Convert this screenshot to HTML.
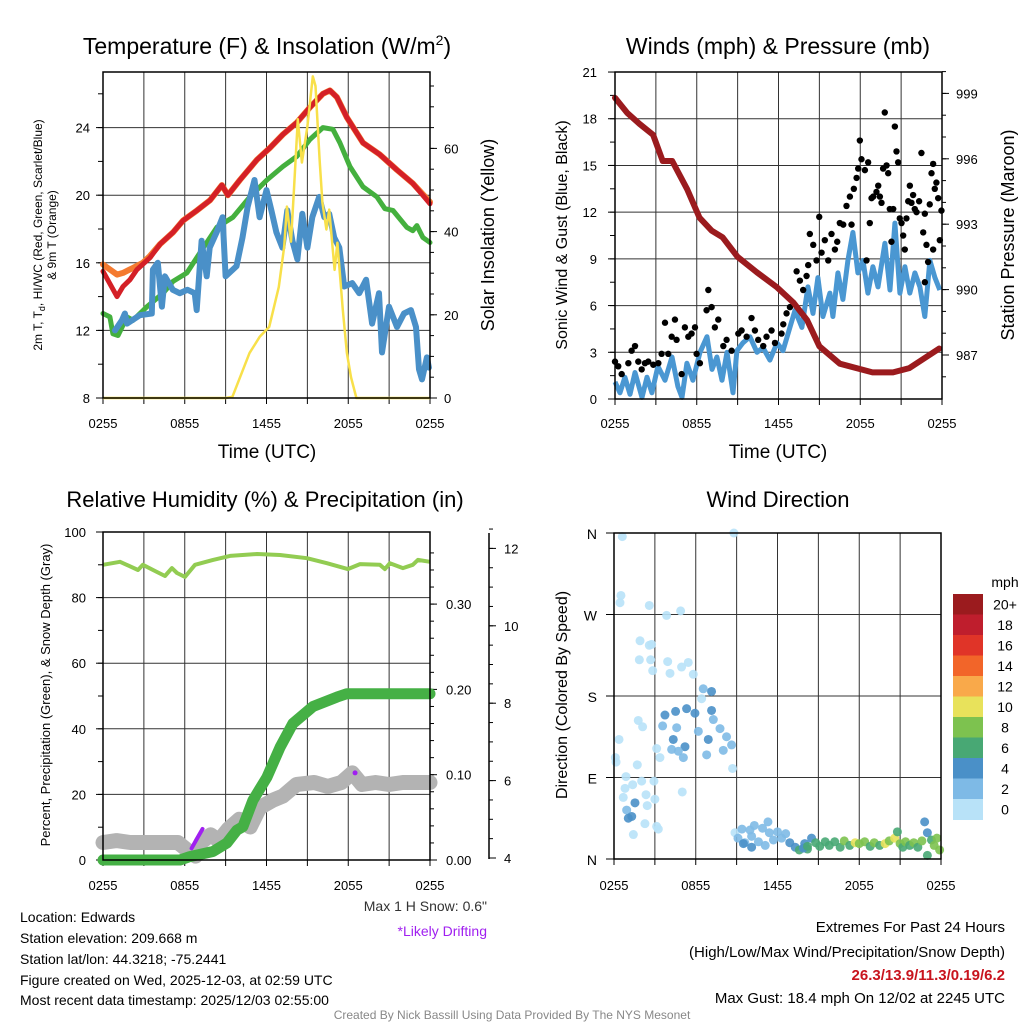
<!DOCTYPE html>
<html><head><meta charset="utf-8"><style>
html,body{margin:0;padding:0;background:#fff}
svg{display:block;font-family:"Liberation Sans",Arial,sans-serif}
</style></head><body>
<svg id="svg" width="1024" height="1024" viewBox="0 0 1024 1024" xmlns="http://www.w3.org/2000/svg">
<rect width="1024" height="1024" fill="#fff"/>
<g id="g1"></g>
<g id="g2"></g>
<g id="g3"></g>
<g id="g4"></g>

<text x="267" y="54" font-size="23" text-anchor="middle">Temperature (F) &amp; Insolation (W/m<tspan font-size="14" dy="-9">2</tspan><tspan dy="9">)</tspan></text>
<text x="778" y="54" font-size="23" text-anchor="middle">Winds (mph) &amp; Pressure (mb)</text>
<text x="265" y="507" font-size="22" text-anchor="middle">Relative Humidity (%) &amp; Precipitation (in)</text>
<text x="778" y="507" font-size="22" text-anchor="middle">Wind Direction</text>

<text x="267" y="458" font-size="19" text-anchor="middle">Time (UTC)</text>
<text x="778" y="458" font-size="19" text-anchor="middle">Time (UTC)</text>

<text transform="translate(42,235) rotate(-90)" font-size="12" text-anchor="middle">2m T, T<tspan font-size="9" dy="3">d</tspan><tspan dy="-3">, HI/WC (Red, Green, Scarlet/Blue)</tspan></text>
<text transform="translate(56,235) rotate(-90)" font-size="12" text-anchor="middle">&amp; 9m T (Orange)</text>
<text transform="translate(494,235) rotate(-90)" font-size="18" text-anchor="middle">Solar Insolation (Yellow)</text>
<text transform="translate(567,235) rotate(-90)" font-size="16" text-anchor="middle">Sonic Wind &amp; Gust (Blue, Black)</text>
<text transform="translate(1014,235) rotate(-90)" font-size="18" text-anchor="middle">Station Pressure (Maroon)</text>
<text transform="translate(50,695) rotate(-90)" font-size="13" text-anchor="middle">Percent, Precipitation (Green), &amp; Snow Depth (Gray)</text>
<text transform="translate(567,695) rotate(-90)" font-size="16" text-anchor="middle">Direction (Colored By Speed)</text>

<g font-size="14">
<text x="20" y="922">Location: Edwards</text>
<text x="20" y="943">Station elevation: 209.668 m</text>
<text x="20" y="964">Station lat/lon: 44.3218; -75.2441</text>
<text x="20" y="985">Figure created on Wed, 2025-12-03, at 02:59 UTC</text>
<text x="20" y="1005">Most recent data timestamp: 2025/12/03 02:55:00</text>
</g>
<text x="487" y="911" font-size="14" text-anchor="end" fill="#333">Max 1 H Snow: 0.6"</text>
<text x="487" y="936" font-size="14" text-anchor="end" fill="#a020f0">*Likely Drifting</text>
<g font-size="15" text-anchor="end">
<text x="1005" y="932">Extremes For Past 24 Hours</text>
<text x="1005" y="957">(High/Low/Max Wind/Precipitation/Snow Depth)</text>
<text x="1005" y="980" font-weight="bold" fill="#c8141e">26.3/13.9/11.3/0.19/6.2</text>
<text x="1005" y="1003">Max Gust: 18.4 mph On 12/02 at 2245 UTC</text>
</g>
<text x="512" y="1019" font-size="12" text-anchor="middle" fill="#888">Created By Nick Bassill Using Data Provided By The NYS Mesonet</text>
</svg>
<script>
// ---- Panel 1 data ----
const redT=[0,1.03,1.47,1.98,2.49,3.45,4.18,5.14,5.87,6.9,7.85,8.73,9.17,10.05,11.3,12.25,13.21,14.23,15.19,16.14,16.65,17.17,17.9,19.08,20.32,21.57,22.74,24];
const redV=[15.5,14.0,14.6,15.0,15.6,16.3,17.1,17.8,18.5,19.1,19.7,20.6,20.0,20.9,22.1,22.8,23.6,24.3,25.2,26.0,26.2,25.8,24.6,23.1,22.4,21.5,20.7,19.5];
const orangeT=[0,1.03,1.47,2.2,2.93,3.45,4.18,5.14,5.87,6.9,7.85,8.73,9.17,10.05,11.3,12.25,13.21,14.23,15.19,16.14,16.65,17.17,17.9,19.08,20.32,21.57,22.74,24];
const orangeV=[15.9,15.3,15.4,15.7,16.0,16.4,17.1,17.8,18.5,19.1,19.7,20.6,20.0,20.9,22.1,22.8,23.6,24.3,25.2,26.0,26.2,25.8,24.6,23.1,22.4,21.5,20.7,19.6];
const greenT=[0,0.51,0.73,1.1,1.76,2.2,3.23,4.4,5.14,6.16,7.12,8.36,9.54,10.78,12.03,13.2,14.23,15.19,16.14,16.87,17.39,18.12,19.08,20.1,20.69,21.28,22.3,22.74,23.04,23.48,24];
const greenV=[13.0,12.8,11.8,11.7,12.8,12.6,13.4,14.2,14.9,15.4,16.6,18.1,18.7,19.9,20.9,21.7,22.3,23.3,24.0,23.9,23.1,21.7,20.5,19.9,19.2,19.1,18.1,17.9,18.2,17.5,17.2];
const blueT=[0.88,1.39,1.61,1.76,2.7,3.58,3.66,4.02,4.32,4.54,5.12,5.63,6.2,6.73,6.88,7.24,7.61,7.83,8.34,8.78,9.0,9.8,10.24,10.61,11.12,11.49,12.0,12.36,12.73,13.17,13.53,13.9,14.27,14.63,15.0,15.36,15.87,16.24,16.6,16.97,17.34,17.7,18.29,18.8,19.31,19.75,20.26,20.48,20.99,21.58,22.09,22.6,22.97,23.19,23.41,23.77,23.92];
const blueV=[12.0,12.6,13.0,12.4,12.9,13.0,15.6,16.0,13.4,15.2,14.4,14.2,14.4,14.2,13.2,17.3,15.2,16.9,17.8,18.7,15.2,15.8,17.5,19.3,20.9,18.7,20.3,19.1,17.8,16.9,19.1,17.3,16.2,18.9,16.9,18.7,19.9,18.7,18.9,17.5,16.9,14.6,14.8,14.2,15.0,12.4,14.2,10.7,13.4,12.2,13.0,13.2,12.2,9.7,9.1,10.4,9.8];
const solarT=[0,9.0,9.5,10.75,11.5,12.2,12.9,13.3,13.5,13.8,14.0,14.3,14.6,15.0,15.4,15.6,15.9,16.1,16.4,16.6,17.0,17.2,17.6,17.9,18.2,18.6,24];
const solarV=[0,0,0.3,10.8,14.7,17.1,26.7,36.4,46,37.6,49.4,67,56.6,65.3,77.3,75,57.3,47,40.5,45.3,30.8,37.3,21.2,10.8,5,0,0];
const tempTicks=[8,12,16,20,24];
const solarTicks=[0,20,40,60];
const timeLabels=["0255","0855","1455","2055","0255"];
// ---- Panel 2 data ----
const presT=[0,0.9,1.8,2.8,3.5,4.2,5.3,6.2,7.1,7.9,9.0,10.4,11.9,13.1,14.1,15.0,16.5,18.9,20.4,21.6,23.8];
const presV=[998.8,998.1,997.6,997.1,995.9,995.9,994.6,993.3,992.7,992.4,991.5,990.8,990.1,989.4,988.6,987.4,986.6,986.2,986.2,986.4,987.3];
const windT=[0,.37,.73,1.1,1.47,1.98,2.35,2.71,3.15,3.67,4.18,4.62,4.92,5.28,5.72,6.24,6.75,7.12,7.48,7.85,8.22,8.66,8.95,9.39,9.9,10.42,10.86,11.37,11.89,12.33,12.84,13.21,13.72,14.16,14.53,14.89,15.26,15.77,15.99,16.36,16.73,17.09,17.46,17.83,18.2,18.56,18.93,19.3,19.81,20.18,20.54,20.91,21.28,21.64,22.01,22.38,22.74,23.11,23.48,23.84];
const windV=[1.1,.4,1.4,.3,1.7,.1,1.4,.4,2.1,1.2,2.7,.8,.1,2.3,1.2,3.0,4.0,1.9,2.7,1.2,3.0,.4,3.1,3.6,4.0,3.0,3.3,2.5,3.6,3.1,4.6,5.7,4.6,7.2,5.5,7.8,5.3,6.8,5.3,8.1,6.4,8.9,10.7,8.1,8.9,6.8,8.5,7.2,10.0,7.0,11.3,6.8,8.5,6.8,8.1,7.2,5.3,8.9,7.8,7.0];
const gustT=[0,.24,.49,.98,1.22,1.47,1.71,1.96,2.2,2.44,2.81,3.18,3.42,3.67,3.91,4.16,4.4,4.52,4.89,5.13,5.38,5.62,5.87,5.99,6.23,6.72,6.85,7.09,7.33,7.58,7.95,8.19,8.56,9.05,9.29,9.66,10.02,10.27,10.51,10.88,11.12,11.49,11.74,12.22,12.35,12.59,12.84,13.33,13.57,13.81,14.06,14.18,14.3,14.55,14.79,14.99,15.16,15.4,15.65,15.89,16.14,16.31,16.5,16.75,16.99,17.24,17.36,17.53,17.73,17.85,17.97,18.09,18.34,18.58,18.7,18.83,18.95,19.19,19.32,19.44,19.56,19.68,19.8,19.93,20.05,20.17,20.29,20.42,20.54,20.66,20.78,20.9,21.03,21.15,21.27,21.39,21.52,21.64,21.76,21.88,22.0,22.13,22.32,22.49,22.62,22.74,22.86,22.98,23.1,23.23,23.35,23.47,23.59,23.72,23.84,23.96,22.74,18.46,23.35];
const gustV=[2.4,2.1,1.6,2.3,3.1,3.4,2.4,1.9,2.3,2.4,2.2,2.3,2.9,4.9,2.9,4.0,5.1,3.8,1.6,4.6,4.0,4.2,4.6,2.9,2.3,5.7,7.0,5.9,4.6,5.1,3.4,3.8,3.1,4.2,4.4,4.0,5.2,4.4,3.8,3.4,4.0,4.4,3.6,4.2,4.8,5.5,5.9,8.2,7.6,7.0,7.9,8.6,10.6,9.9,8.9,11.7,9.4,10.2,8.9,10.6,9.6,10.1,11.3,11.2,12.4,13.0,11.2,13.5,14.2,14.8,16.6,15.4,14.7,15.2,11.3,12.9,13.0,13.3,13.7,13.0,12.6,14.8,18.4,15.0,14.5,12.2,10.1,12.2,17.5,15.9,15.2,11.6,11.3,10.5,9.6,11.6,12.7,13.7,12.6,13.1,12.2,12.0,12.7,15.8,10.7,11.9,9.9,8.8,12.5,14.5,15.1,13.5,13.9,12.9,10.2,12.1,7.5,8.9,9.6];
const windTicks=[0,3,6,9,12,15,18,21];
const presTicks=[987,990,993,996,999];
// ---- Panel 3 data ----
const rhT=[0,1.25,2.57,2.93,3.96,4.55,5.06,5.43,6.02,6.75,8.07,9.32,11.3,12.99,14.97,16.43,17.97,18.86,20.32,20.69,21.06,22.01,22.74,23.11,24];
const rhV=[90.0,90.9,88.4,90,87.8,86.6,89,87.5,86.3,90,91.5,92.7,93.3,93,92,90.5,88.7,90.2,90,88.7,90.5,89,90,91.5,90.9];
const precipT=[0,5.65,6.38,8.07,9.1,9.83,10.27,11.0,12.03,12.99,13.94,15.41,17.17,17.9,24];
const precipV=[0,0,0.004,0.01,0.02,0.035,0.039,0.07,0.097,0.132,0.16,0.18,0.191,0.195,0.195];
const snowT=[0,1,2,5.5,6.2,6.8,7.2,7.9,8.5,9.2,10.0,10.8,11.5,12.5,13.2,14.2,15.5,16.5,17.5,18.3,19,20,21,22,24];
const snowV=[4.4,4.45,4.4,4.4,4.2,4.05,4.4,4.6,4.45,4.75,5.0,4.8,5.3,5.5,5.6,5.9,5.95,5.85,5.95,6.2,5.9,5.95,5.9,5.95,5.95];
const driftT=[6.5,6.9,7.3];
const driftV=[4.25,4.5,4.75];
const driftDotT=[18.5];
const driftDotV=[6.2];
const rhTicks=[0,20,40,60,80,100];
const precipTicks=["0.00","0.10","0.20","0.30"];
const snowTicks=[4,6,8,10,12];
// ---- Panel 4 data ----
const dirT=[0.61,0.51,0.44,2.59,3.86,4.89,1.91,2.59,2.76,1.86,2.69,2.84,3.94,4.11,4.96,5.45,5.82,6.55,7.16,6.43,7.16,7.29,7.78,8.26,8.63,8.7,8.02,6.92,6.8,5.94,6.19,5.33,4.52,3.74,3.57,4.6,4.35,4.23,5.21,4.72,5.09,1.78,2.1,0.37,0.1,0.15,3.13,3.37,1.71,0.88,0.81,1.37,2.03,0.68,1.54,2.35,2.44,3.0,0.93,1.05,1.3,2.27,1.42,3.13,3.25,2.93,5.01,8.8,
8.88,9.1,9.39,9.6,9.98,10.1,10.3,10.6,10.9,11.1,11.3,11.4,11.7,12.0,12.3,12.6,12.9,13.3,13.6,14.0,14.2,14.5,14.8,15.1,15.5,15.8,16.2,16.6,16.9,17.3,17.7,18.0,18.4,18.8,19.1,19.5,19.9,20.2,20.6,20.8,21.0,21.2,21.4,21.7,22.0,22.3,22.6,22.8,23.0,23.0,23.3,23.5,23.7,23.9,9.5,10.1,13.9,14.2];
const dirDeg=[356,291,283,280,269,274,241,236,237,220,220,208,218,205,212,217,204,188,185,177,164,154,144,135,126,100,120,132,115,161,141,166,163,159,147,145,132,121,124,119,112,153,146,132,112,107,122,112,104,91,78,82,86,68,62,71,59,66,54,45,47,39,27,36,33,86,74,360,
29,23,33,18,32,25,37,19,34,15,41,29,21,30,23,28,18,13,10,17,11,23,18,14,19,15,19,13,20,15,18,17,19,14,18,15,17,20,23,30,17,13,19,15,18,13,20,41,29,4,21,15,23,10,17,13,12,14];
const dirSpd=[1,1,1,1,1,1,1,1,1,1,1,1,1,1,1,1,1,2.5,4.5,1,4.5,3,3,3,3,1,3,4.5,3,4.5,3,4.5,4.5,4.5,3,3,4.5,3,4.5,3,3,1,1,1,1,1,1,1,1,1,1,1,1,1,4.5,1,1,1,3,4.5,4.5,1,1,1,1,1,1,1,
1.5,2.5,2.5,2.5,2.5,3.5,2.5,3,2.5,3,2.5,2.5,3,2.5,3,2.5,4.5,4.5,6,4.5,6.5,5,6.5,6.5,7,6.5,7,6.5,8.5,6.5,10.5,8.5,8.5,7,8.5,7,10.5,8.5,10.5,6.5,8.5,6.5,8.5,6.5,8.5,7,8.5,4.5,4.5,6.5,6.5,8.5,8.5,8.5,4.5,4.5,4.5,6.5];
const dirLabels=["N","E","S","W","N"];
const dirTickDeg=[0,90,180,270,360];
const cbLabels=["0","2","4","6","8","10","12","14","16","18","20+"];
const cbColors=["#b8e2f8","#7ebae6","#4a90c8","#48a874","#7dc24f","#e8e25b","#f9a94a","#f26529","#e03428","#bf1e2d","#9b1b1e"];

const NS="http://www.w3.org/2000/svg";
function mk(parent,tag,attrs){const e=document.createElementNS(NS,tag);for(const k in attrs)e.setAttribute(k,attrs[k]);parent.appendChild(e);return e;}
function pathFrom(xs,ys,X,Y){let d="";for(let i=0;i<xs.length;i++)d+=(i?"L":"M")+X(xs[i]).toFixed(1)+","+Y(ys[i]).toFixed(1);return d;}
function frame(g,x0,y0,x1,y1,X,hLines){
  for(let h=0;h<=24;h+=3){const l=mk(g,"line",{x1:X(h),x2:X(h),y1:y0,y2:y1,stroke:"#333","stroke-width":1});
  
  
  const tk=mk(g,"line",{x1:X(h),x2:X(h),y1:y1,y2:y1+6,stroke:"#000","stroke-width":1});
  
  }
  hLines.forEach(y=>{const l=mk(g,"line",{x1:x0,x2:x1,y1:y,y2:y,stroke:"#333","stroke-width":1});
  
  });
}
function border(g,x0,y0,x1,y1){const r=mk(g,"rect",{x:x0,y:y0,width:x1-x0,height:y1-y0,fill:"none",stroke:"#000","stroke-width":1.5});

}
function xlabels(g,X,y){timeLabels.forEach((s,i)=>{const t=mk(g,"text",{x:X(i*6),y:y,"font-size":13,"text-anchor":"middle"});t.textContent=s;

});}
function tlabel(g,x,y,s,anchor,size){const t=mk(g,"text",{x:x,y:y,"font-size":size||13,"text-anchor":anchor});t.textContent=s;

return t;}
function tick(g,x1,y1,x2,y2){const l=mk(g,"line",{x1,y1,x2,y2,stroke:"#000","stroke-width":1});

}

// ---------- Panel 1 ----------
(function(){
const g=document.getElementById("g1");
const X=t=>103+t*327/24, YL=v=>398-(v-8)*16.9, YR=w=>398-w*4.16;
frame(g,103,72,430,398,X,tempTicks.map(YL));
for(let v=8;v<=27;v+=2){tick(g,98,YL(v),103,YL(v));}
tempTicks.forEach(v=>{tick(g,96,YL(v),103,YL(v));tlabel(g,90,YL(v)+5,String(v),"end");});
for(let w=0;w<=75;w+=5){tick(g,430,YR(w),434,YR(w));}
solarTicks.forEach(w=>{tick(g,430,YR(w),437,YR(w));tlabel(g,444,YR(w)+5,String(w),"start");});
let p=mk(g,"path",{d:pathFrom(orangeT,orangeV,X,YL),fill:"none",stroke:"#f47a30","stroke-width":6,"stroke-linejoin":"round","stroke-linecap":"round"});


p=mk(g,"path",{d:pathFrom(redT,redV,X,YL),fill:"none",stroke:"#d42027","stroke-width":5,"stroke-linejoin":"round","stroke-linecap":"round"});


p=mk(g,"path",{d:pathFrom(greenT,greenV,X,YL),fill:"none",stroke:"#44b03e","stroke-width":5,"stroke-linejoin":"round","stroke-linecap":"round"});


p=mk(g,"path",{d:pathFrom(blueT,blueV,X,YL),fill:"none",stroke:"#4a90c8","stroke-width":6,"stroke-linejoin":"round","stroke-linecap":"round"});


p=mk(g,"path",{d:pathFrom(solarT,solarV,X,YR),fill:"none",stroke:"#f8e04a","stroke-width":2.5,"stroke-linejoin":"round"});


border(g,103,72,430,398);
xlabels(g,X,428);
})();

// ---------- Panel 2 ----------
(function(){
const g=document.getElementById("g2");
const X=t=>615+t*327/24, YL=v=>399-v*15.57, YR=p=>355-(p-987)*21.8;
frame(g,615,72,942,399,X,windTicks.map(YL));
for(let v=0;v<=21;v+=1.5){tick(g,610,YL(v),615,YL(v));}
windTicks.forEach(v=>{tick(g,608,YL(v),615,YL(v));tlabel(g,597,YL(v)+5,String(v),"end");});
for(let q=986;q<=1000;q+=1){tick(g,942,YR(q),946,YR(q));}
presTicks.forEach(q=>{tick(g,942,YR(q),949,YR(q));tlabel(g,956,YR(q)+5,String(q),"start");});
let p=mk(g,"path",{d:pathFrom(windT,windV,X,YL),fill:"none",stroke:"#4a97d2","stroke-width":5,"stroke-linejoin":"round"});


gustT.forEach((t,i)=>{const c=mk(g,"circle",{cx:X(t),cy:YL(gustV[i]),r:3.2,fill:"#000"});

});
p=mk(g,"path",{d:pathFrom(presT,presV,X,YR),fill:"none",stroke:"#9b1b1e","stroke-width":6,"stroke-linejoin":"round","stroke-linecap":"round"});


border(g,615,72,942,399);
xlabels(g,X,428);
})();

// ---------- Panel 3 ----------
(function(){
const g=document.getElementById("g3");
const X=t=>103+t*327/24, YL=v=>860-v*3.28, YP=q=>860-q*853, YS=s=>858-(s-4)*38.7;
frame(g,103,532,430,860,X,rhTicks.map(YL));
for(let v=0;v<=100;v+=10){tick(g,98,YL(v),103,YL(v));}
rhTicks.forEach(v=>{tick(g,96,YL(v),103,YL(v));tlabel(g,86,YL(v)+5,String(v),"end");});
for(let q=0;q<=0.38;q+=0.02){tick(g,430,YP(q),434,YP(q));}
precipTicks.forEach(s=>{const q=parseFloat(s);tick(g,430,YP(q),437,YP(q));tlabel(g,446,YP(q)+5,s,"start");});
const ax=mk(g,"line",{x1:489,x2:489,y1:533,y2:859,stroke:"#000","stroke-width":1.5});


for(let s=4;s<=12.5;s+=0.5){tick(g,489,YS(s),493,YS(s));}
snowTicks.forEach(s=>{tick(g,489,YS(s),496,YS(s));tlabel(g,504,YS(s)+5,String(s),"start");});
let p=mk(g,"path",{d:pathFrom(snowT,snowV,X,YS),fill:"none",stroke:"#b3b3b3","stroke-width":15,"stroke-linejoin":"round","stroke-linecap":"round"});


p=mk(g,"path",{d:pathFrom(driftT,driftV,X,YS),fill:"none",stroke:"#a020f0","stroke-width":4,"stroke-linecap":"round"});


driftDotT.forEach((t,i)=>{const c=mk(g,"circle",{cx:X(t),cy:YS(driftDotV[i]),r:2.5,fill:"#a020f0"});

});
p=mk(g,"path",{d:pathFrom(precipT,precipV,X,YP),fill:"none",stroke:"#45b045","stroke-width":11,"stroke-linejoin":"round","stroke-linecap":"round"});


p=mk(g,"path",{d:pathFrom(rhT,rhV,X,YL),fill:"none",stroke:"#92cc52","stroke-width":4,"stroke-linejoin":"round"});


border(g,103,532,430,860);
xlabels(g,X,890);
})();

// ---------- Panel 4 ----------
(function(){
const g=document.getElementById("g4");
const X=t=>614+t*327/24, Y=d=>859-d*326/360;
frame(g,614,533,941,859,X,dirTickDeg.map(Y));
dirTickDeg.forEach((d,i)=>{tick(g,606,Y(d),614,Y(d));tlabel(g,597,Y(d)+6,dirLabels[i],"end",14);});
dirT.forEach((t,i)=>{const k=Math.min(10,Math.floor(dirSpd[i]/2));
const c=mk(g,"circle",{cx:X(t),cy:Y(dirDeg[i]),r:4.5,fill:cbColors[k],"fill-opacity":0.9});

});
border(g,614,533,941,859);
xlabels(g,X,890);
const h=20.5, top=594;
for(let i=0;i<cbColors.length;i++){const j=cbColors.length-1-i;
const r=mk(g,"rect",{x:953,y:top+i*h,width:30,height:h+0.5,fill:cbColors[j]});


const t=mk(g,"text",{x:1005,y:top+i*h+h/2+5,"font-size":14,"text-anchor":"middle"});t.textContent=cbLabels[j];

}
const m=mk(g,"text",{x:1005,y:587,"font-size":14,"text-anchor":"middle"});m.textContent="mph";


})();
</script>
</body></html>
